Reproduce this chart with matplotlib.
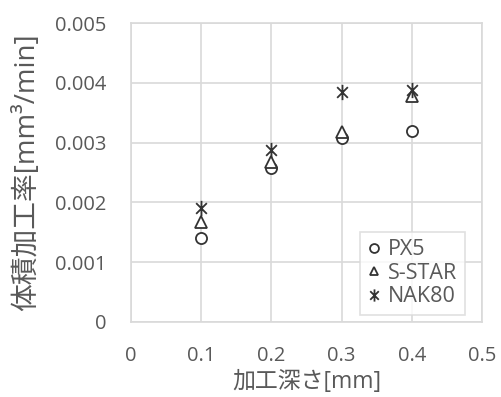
import matplotlib
matplotlib.use('Agg')
from matplotlib import pyplot as plt
from matplotlib.path import Path

plt.rcParams['font.family'] = ['Open Sans', 'Noto Sans CJK JP', 'DejaVu Sans']

# 加工深さ [mm]
depth = [0.1, 0.2, 0.3, 0.4]

# 体積加工率 [mm3/min]
px5 = [0.00140, 0.00258, 0.00308, 0.00320]
sstar = [0.00167, 0.00267, 0.00318, 0.00378]
nak80 = [0.00190, 0.00287, 0.00385, 0.00388]

xticks = [0, 0.1, 0.2, 0.3, 0.4, 0.5]
xticklabels = ['0', '0.1', '0.2', '0.3', '0.4', '0.5']
yticks = [0, 0.001, 0.002, 0.003, 0.004, 0.005]
yticklabels = ['0', '0.001', '0.002', '0.003', '0.004', '0.005']

txt = '#595959'
grid = '#d9d9d9'
mk = '#333333'

# Excel風のスターマーカー (X + 縦線)
star = Path([(-0.7, -0.7), (0.7, 0.7), (-0.7, 0.7), (0.7, -0.7), (0, -1), (0, 1)],
            [Path.MOVETO, Path.LINETO, Path.MOVETO, Path.LINETO, Path.MOVETO, Path.LINETO])

fig = plt.figure(figsize=(5.02, 3.97), dpi=100)
ax = fig.add_axes([0.261, 0.189, 0.699, 0.753])

ax.plot(depth, px5, linestyle='none', marker='o', markersize=8,
        markerfacecolor='white', markeredgecolor=mk, markeredgewidth=1.3,
        label='PX5', zorder=3)
ax.plot(depth, sstar, linestyle='none', marker='^', markersize=8,
        markerfacecolor='white', markeredgecolor=mk, markeredgewidth=1.3,
        label='S-STAR', zorder=3)
ax.plot(depth, nak80, linestyle='none', marker=star, markersize=11,
        markeredgecolor=mk, markeredgewidth=1.3, color=mk,
        label='NAK80', zorder=3)

ax.set_xlim(0, 0.5)
ax.set_ylim(0, 0.005)
ax.set_xticks(xticks)
ax.set_xticklabels(xticklabels)
ax.set_yticks(yticks)
ax.set_yticklabels(yticklabels)
ax.tick_params(length=0, labelsize=14.5, labelcolor=txt)
ax.tick_params(axis='x', pad=17)
ax.tick_params(axis='y', pad=18)

ax.grid(True, color=grid, linewidth=1.2)
ax.set_axisbelow(True)
for s in ax.spines.values():
    s.set_color(grid)
    s.set_linewidth(1.2)

ax.set_xlabel('加工深さ[mm]', fontsize=16.5, color=txt, labelpad=3)
ax.set_ylabel('体積加工率[mm³/min]', fontsize=20, color=txt, labelpad=10)

leg = ax.legend(loc='lower right', bbox_to_anchor=(0.975, -0.005), fontsize=15.5,
                frameon=True, fancybox=False, handlelength=0.6,
                handletextpad=0.35, borderpad=0.35, labelspacing=0.12,
                borderaxespad=0.4, labelcolor=txt, markerscale=0.8)
leg.get_frame().set_edgecolor(grid)
leg.get_frame().set_linewidth(1.2)

fig.savefig('out.png', dpi=100)
